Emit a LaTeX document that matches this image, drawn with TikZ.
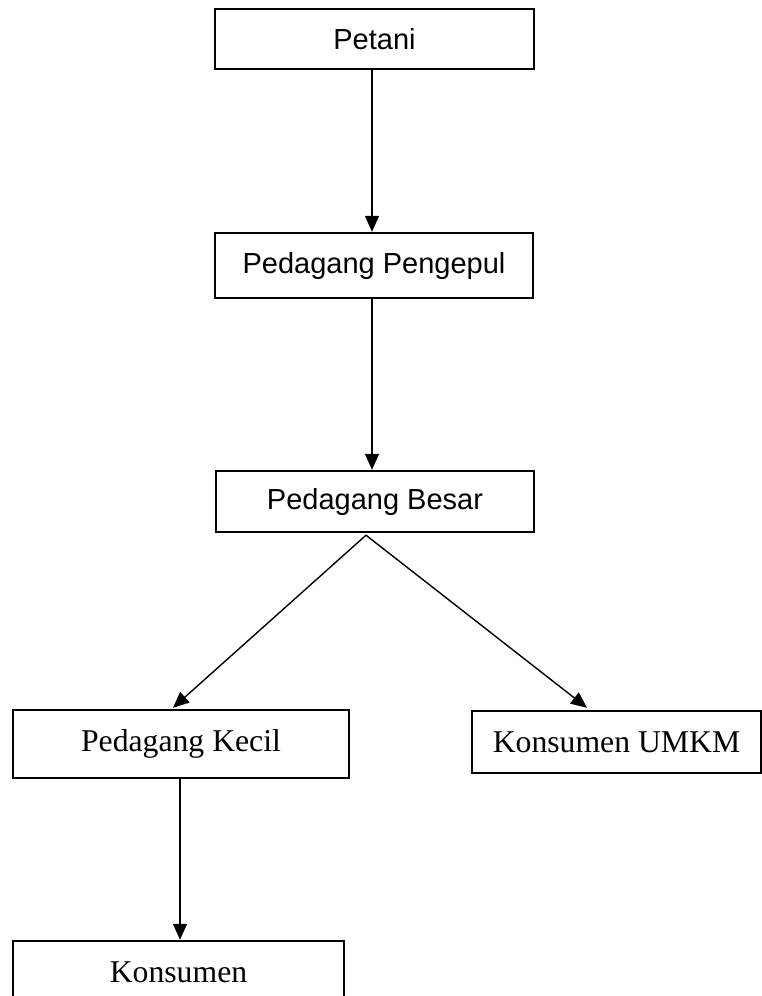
\documentclass[tikz,border=0pt]{standalone}
\usepackage{fontspec}
\setmainfont{Liberation Serif}
\newfontfamily\arialf{Liberation Sans}
\usetikzlibrary{arrows.meta}
\begin{document}
\begin{tikzpicture}[x=1pt,y=-1pt,
  boxs/.style={draw,line width=2.4pt,rectangle,inner sep=0pt,font=\arialf\fontsize{29}{34}\selectfont},
  boxt/.style={draw,line width=2.4pt,rectangle,inner sep=0pt,font=\fontsize{31.7}{38}\selectfont},
  conn/.style={line width=1.4pt,-{Triangle[length=16pt,width=14pt]}}]
\useasboundingbox (0,0) rectangle (762,996);
\node[boxs,minimum width=319pt,minimum height=60pt] (petani) at (374.5,39) {Petani};
\node[boxs,minimum width=318pt,minimum height=65pt] (pengepul) at (374,265.5) {Pedagang Pengepul};
\node[boxs,minimum width=318pt,minimum height=61pt] (besar) at (375,501.5) {Pedagang Besar};
\node[boxt,minimum width=336pt,minimum height=68pt] (kecil) at (181,744) {Pedagang Kecil};
\node[boxt,minimum width=289pt,minimum height=62pt] (umkm) at (616.5,742) {Konsumen UMKM};
\node[boxt,minimum width=331pt,minimum height=68pt,text depth=0pt,text height=14pt] (konsumen) at (178.5,975) {Konsumen};
\coordinate (apex) at ([xshift=-9pt,yshift=-2pt]besar.south);
\draw[conn] ([xshift=-2.5pt]petani.south) -- ([xshift=-2pt]pengepul.north);
\draw[conn] ([xshift=-2pt]pengepul.south) -- ([xshift=-3pt]besar.north);
\draw[conn] (apex) -- ([xshift=-8pt,yshift=1pt]kecil.north);
\draw[conn] (apex) -- ([xshift=-29.5pt,yshift=2pt]umkm.north);
\draw[conn] ([xshift=-1pt]kecil.south) -- ([xshift=1.5pt]konsumen.north);
\end{tikzpicture}
\end{document}
